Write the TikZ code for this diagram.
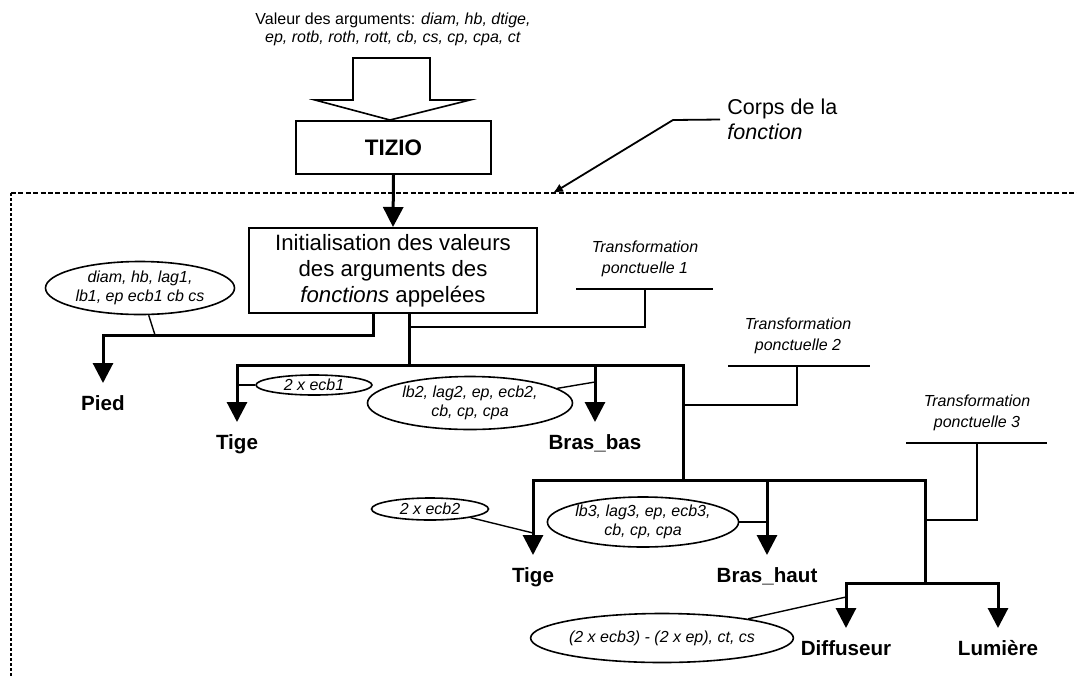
\documentclass[tikz,border=0pt]{standalone}
\usepackage{fontspec}
\setmainfont{Liberation Sans}
\usetikzlibrary{arrows.meta,shapes.geometric}
\begin{document}
\begin{tikzpicture}[x=0.5pt,y=-0.5pt,
  thickline/.style={line width=1.5pt},
  thinline/.style={line width=0.7pt},
  arr/.style={thickline,-{Triangle[length=10pt,width=10pt]}},
  oval/.style={ellipse,draw,line width=0.8pt,inner sep=0pt,align=center,
    font=\fontsize{8}{9.5}\selectfont\itshape},
  lbl/.style={inner xsep=0pt,inner ysep=6.2pt,text height=7.5pt,text depth=0pt,
    anchor=north,font=\fontsize{10.3}{12}\selectfont\bfseries},
  tlabel/.style={align=center,inner sep=0pt,font=\fontsize{8}{10.5}\selectfont\itshape},
  boxst/.style={draw,line width=1pt,inner sep=0pt,align=center}]
\useasboundingbox (0,0) rectangle (1077,676);

% frame
\draw[line width=0.7pt,dash pattern=on 2.5pt off 1.2pt] (11,193) -- (1077,193);
\draw[line width=1pt,dash pattern=on 1.5pt off 1pt] (11,193) -- (11,676);

% top text and hollow arrow
\node[align=center,inner sep=0pt,font=\fontsize{8}{9}\selectfont] (args) at (393,29)
  {Valeur des arguments: \textit{diam, hb, dtige,}\\\textit{ep, rotb, roth, rott, cb, cs, cp, cpa, ct}};
\draw[line width=0.8pt,fill=white] (353,58) -- (430,58) -- (430,100) -- (470,100) -- (390,120)
  -- (315,100) -- (353,100) -- cycle;

% TIZIO
\node[boxst,minimum width=97.5pt,minimum height=26.5pt,font=\fontsize{11.2}{13}\selectfont\bfseries]
  (tizio) at (393.5,147.5) {TIZIO};
% init box
\node[boxst,minimum width=144pt,minimum height=42.5pt,font=\fontsize{11.1}{13}\selectfont]
  (init) at (393,270.5) {Initialisation des valeurs\\des arguments des\\\textit{fonctions} appelées};
\draw[arr] (tizio.south) -- (init.north);

% Corps de la fonction
\node[anchor=west,align=left,inner xsep=3.5pt,font=\fontsize{10.75}{12.5}\selectfont] (corps) at (720,119.5)
  {Corps de la\\\textit{fonction}};
\coordinate (c2) at (673,120);
\coordinate (c3) at (553,193);
\draw[line width=0.9pt,-{Latex[length=5pt,width=4.5pt]}] (corps.west) -- (c2) -- (c3);

% labels
\node[lbl] (pied) at (103,383) {Pied};
\node[lbl] (tige1) at (237,422) {Tige};
\node[lbl] (brasbas) at (595,422) {Bras\_bas};
\node[lbl] (tige2) at (533,555) {Tige};
\node[lbl] (brashaut) at (767,555) {Bras\_haut};
\node[lbl] (diff) at (846,628) {Diffuseur};
\node[lbl] (lum) at (998,628) {Lumière};

% tree junctions
\coordinate (pa) at (373,313);
\coordinate (pb) at (373,335);
\coordinate (sa) at (409,313);
\coordinate (sb) at (409,365);
\coordinate (b1r) at (683,365);
\coordinate (b2m) at (683,480);
\coordinate (b2r) at (925,480);
\coordinate (b3m) at (925,583);

\draw[arr] (pa) -- (pb) -| (pied.north);
\draw[thickline] (sa) -- (sb);
\draw[arr] (sb) -| (tige1.north);
\draw[arr] (sb) -| (brasbas.north);
\draw[thickline] (sb) -- (b1r) -- (b2m);
\draw[arr] (b2m) -| (tige2.north);
\draw[arr] (b2m) -| (brashaut.north);
\draw[thickline] (b2m) -- (b2r) -- (b3m);
\draw[arr] (b3m) -| (diff.north);
\draw[arr] (b3m) -| (lum.north);

% transformations
\node[tlabel] (t1) at (645,258.5) {Transformation\\ponctuelle 1};
\coordinate (t1l) at (576,289);
\coordinate (t1r) at (713,289);
\coordinate (t1c) at (645,289);
\coordinate (t1s) at (409,327);
\draw[thinline] (t1l) -- (t1r);
\draw[thinline] (t1s) -| (t1c);

\node[tlabel] (t2) at (798,336) {Transformation\\ponctuelle 2};
\coordinate (t2l) at (728,366);
\coordinate (t2r) at (870,366);
\coordinate (t2c) at (797,366);
\coordinate (t2s) at (683,405);
\draw[thinline] (t2l) -- (t2r);
\draw[thinline] (t2s) -| (t2c);

\node[tlabel] (t3) at (977,412.5) {Transformation\\ponctuelle 3};
\coordinate (t3l) at (906,443);
\coordinate (t3r) at (1047,443);
\coordinate (t3c) at (977,443);
\coordinate (t3s) at (925,520);
\draw[thinline] (t3l) -- (t3r);
\draw[thinline] (t3s) -| (t3c);

% ellipses
\node[oval,minimum width=94.5pt,minimum height=26.5pt] (e0) at (140,288) {diam, hb, lag1,\\lb1, ep ecb1 cb cs};
\coordinate (j0) at (155,335);
\draw[thinline] (e0) -- (j0);

\node[oval,minimum width=58pt,minimum height=10pt] (e1) at (314,385) {2 x ecb1};
\coordinate (j1) at (237,385);
\draw[thinline] (e1) -- (j1);

\node[oval,minimum width=102.5pt,minimum height=26.5pt] (e2) at (470,403) {lb2, lag2, ep, ecb2,\\cb, cp, cpa};
\coordinate (j2) at (595,382);
\draw[thinline] (e2) -- (j2);

\node[oval,minimum width=58.5pt,minimum height=11pt] (e3) at (430,509) {2 x ecb2};
\coordinate (j3) at (533,533);
\draw[thinline] (e3.-12) -- (j3);

\node[oval,minimum width=95pt,minimum height=25pt] (e4) at (643,522) {lb3, lag3, ep, ecb3,\\cb, cp, cpa};
\coordinate (j4) at (767,522);
\draw[thinline] (e4) -- (j4);

\node[oval,minimum width=117.5pt,minimum height=24.5pt] (e5) at (662,638) {(2 x ecb3) - (2 x ep), ct, cs};
\coordinate (j5) at (846,597);
\draw[thinline] (e5) -- (j5);
\end{tikzpicture}
\end{document}
